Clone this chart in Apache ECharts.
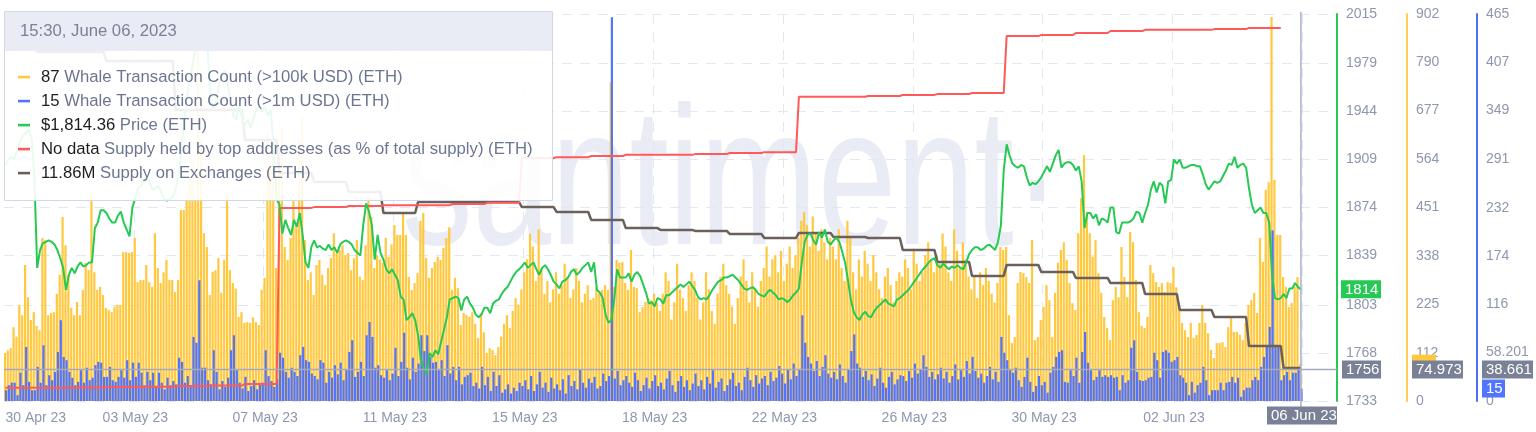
<!DOCTYPE html>
<html><head><meta charset="utf-8">
<script src="https://cdn.jsdelivr.net/npm/echarts@6.0.0/dist/echarts.min.js"></script>
<style>html,body{margin:0;padding:0;background:#fff;overflow:hidden}#chart{width:1536px;height:432px}</style>
</head><body><div id="chart"></div>
<script>
// ---------------- DATA ----------------
const tickLabels = ['30 Apr 23','03 May 23','07 May 23','11 May 23','15 May 23','18 May 23','22 May 23','26 May 23','30 May 23','02 Jun 23','06 Jun 23'];
const tickIndex  = [0,45,90,135,180,225,270,315,360,405,450];
const priceTicks = [1733,1768,1803,1839,1874,1909,1944,1979,2015];
const whale100kTicks = [0,112,225,338,451,564,677,790,902];
const whale1mTicks = [0,58.201,116,174,232,291,349,407,465];

// 2-hour bars, 30 Apr 23 02:00 -> 06 Jun 23 14:00
const whale100k = [
112,118,123,172,150,224,200,317,242,189,207,
175,165,380,375,200,205,207,250,294,429,363,294,
217,200,231,200,259,322,305,485,300,259,266,247,
217,212,207,220,224,224,347,347,345,347,380,277,
282,282,317,277,266,391,310,275,300,329,282,282,
254,282,445,445,468,520,560,472,870,610,391,359,
247,301,305,333,252,329,490,305,275,262,196,207,
182,184,182,195,184,177,259,287,620,540,600,310,
580,640,359,329,380,468,415,610,660,375,282,300,
247,317,329,294,270,310,333,391,345,352,363,340,
345,305,333,375,290,282,363,475,429,310,340,330,
322,380,336,365,410,387,387,440,387,289,259,275,
298,420,438,333,287,310,324,336,329,357,380,405,
259,287,263,177,205,200,196,207,180,147,205,160,
112,123,119,107,126,150,180,200,170,210,240,225,
260,300,330,390,360,280,400,310,250,280,230,260,
300,250,270,320,290,240,260,310,280,230,250,270,
236,240,266,252,259,270,259,743,266,329,322,324,
275,259,352,266,263,207,219,231,240,235,250,228,
210,250,300,280,190,230,320,260,240,210,270,300,
280,240,190,230,300,260,210,180,250,290,320,270,
250,220,180,240,290,330,280,230,300,260,220,280,
310,360,290,330,340,300,350,280,320,360,310,340,
380,420,440,410,360,430,390,350,400,370,330,380,
360,330,400,310,280,420,380,300,260,330,290,350,
320,280,340,300,260,240,290,310,270,230,280,300,
290,330,310,260,350,320,280,300,340,370,330,300,
340,320,390,360,300,280,400,350,310,370,330,290,
260,290,240,300,270,310,280,250,230,275,359,352,
359,200,135,149,275,301,298,289,275,375,142,149,
189,219,270,235,149,252,322,352,370,329,275,228,
212,391,473,573,440,391,336,375,298,252,196,170,
142,235,266,242,359,289,242,394,370,282,207,175,
170,196,317,298,277,266,275,254,277,275,312,265,
219,182,165,149,182,147,154,182,224,182,158,119,
100,135,135,137,126,172,196,161,161,154,142,182,
224,235,252,205,380,324,492,510,895,515,387,387,
289,266,219,228,266,289,87
];
const whale1m = [
13,19,22,22,7,34,19,65,23,13,13,
41,22,67,19,31,25,35,59,97,53,49,35,
28,19,23,37,22,40,25,28,43,47,46,29,
29,41,25,23,29,37,28,49,25,46,29,46,
34,19,35,25,34,17,34,22,14,28,19,24,
20,52,47,22,30,18,77,70,145,40,40,25,
20,61,35,14,24,17,28,61,79,37,22,15,
29,12,18,25,14,20,22,61,30,24,17,26,
58,52,35,28,40,35,30,55,65,49,47,33,
30,26,49,46,22,35,28,43,32,46,25,38,
59,73,29,35,47,30,79,95,77,40,43,31,
28,37,25,33,64,30,47,82,40,26,52,35,
45,79,60,79,53,46,47,37,49,30,67,33,
41,25,41,20,29,31,34,18,22,15,41,19,
29,12,35,18,31,10,14,20,9,16,12,22,
18,25,14,30,12,20,35,16,22,11,28,15,
20,13,26,9,31,18,24,14,38,22,16,27,
22,29,15,18,33,24,30,461,27,36,19,25,
30,22,17,34,25,12,19,28,15,24,31,18,
22,14,27,36,19,11,24,30,17,25,13,21,
33,18,25,14,29,21,37,16,23,27,12,19,
26,34,18,22,13,29,40,25,17,31,21,27,
30,19,35,24,28,42,33,21,38,26,45,30,
38,103,70,53,45,36,48,30,41,55,33,28,
35,26,44,30,22,38,60,80,45,40,29,36,
25,32,18,27,40,22,16,29,35,20,26,31,
30,24,36,28,45,33,38,55,41,29,35,26,
32,40,27,35,22,30,44,26,37,29,48,33,
53,36,28,33,22,30,41,26,35,23,77,58,
49,37,34,40,25,17,29,52,23,11,18,30,
19,23,10,34,41,53,59,61,23,22,37,30,
52,22,59,83,46,37,25,29,37,29,31,29,
31,28,29,13,31,22,25,64,73,35,25,24,
25,28,29,58,49,28,59,61,58,47,49,53,
31,28,22,7,23,10,19,22,41,25,7,13,
13,13,22,13,22,23,29,22,28,5,13,16,
16,25,29,25,41,53,65,89,205,65,65,25,
31,35,25,34,34,40,15
];
const price = [
1905,1909,1911,1909,1916,1922,1926,1928,1931,1925,1898,
1830,1843,1848,1849,1850,1849,1847,1843,1837,1830,1814,1825,
1830,1826,1831,1834,1831,1832,1834,1834,1859,1863,1872,1872,
1870,1866,1863,1863,1868,1871,1863,1858,1853,1874,1881,1888,
1890,1894,1896,1892,1887,1888,1890,1885,1880,1879,1880,1882,
1887,1898,1916,1938,1956,1967,1980,1990,2000,2009,2003,1992,
1956,1945,1952,1963,1971,1974,1965,1952,1941,1938,1949,1939,
1934,1938,1932,1939,1945,1949,1944,1947,1941,1945,1916,1880,
1876,1855,1865,1859,1854,1865,1860,1870,1854,1834,1830,1845,
1850,1845,1846,1844,1843,1847,1843,1845,1841,1847,1849,1850,
1849,1847,1843,1841,1839,1861,1877,1871,1861,1836,1854,1841,
1836,1829,1826,1829,1825,1821,1809,1807,1792,1794,1797,1792,
1781,1763,1756,1753,1768,1765,1770,1767,1776,1785,1794,1807,
1808,1809,1808,1799,1807,1809,1804,1801,1796,1794,1796,1801,
1801,1797,1804,1806,1807,1811,1814,1816,1820,1824,1827,1829,
1831,1834,1830,1832,1834,1829,1825,1830,1832,1829,1825,1820,
1818,1815,1820,1821,1823,1827,1829,1825,1827,1830,1832,1834,
1827,1834,1814,1812,1808,1796,1790,1792,1807,1829,1823,1823,
1823,1826,1820,1825,1827,1824,1818,1812,1804,1805,1802,1808,
1807,1804,1810,1810,1812,1814,1816,1818,1816,1818,1820,1817,
1814,1809,1807,1808,1807,1810,1814,1817,1820,1821,1823,1823,
1824,1825,1823,1821,1818,1815,1814,1815,1816,1814,1811,1810,
1809,1812,1814,1812,1810,1807,1808,1807,1805,1807,1810,1812,
1815,1834,1849,1854,1855,1850,1847,1856,1852,1858,1849,1847,
1850,1852,1849,1842,1834,1821,1807,1798,1794,1792,1796,1798,
1795,1794,1798,1801,1803,1805,1807,1804,1803,1802,1807,1808,
1810,1812,1814,1817,1820,1823,1826,1829,1831,1834,1836,1837,
1832,1830,1833,1831,1829,1831,1830,1832,1830,1829,1834,1840,
1843,1845,1845,1843,1844,1846,1847,1845,1843,1849,1861,1901,
1920,1912,1906,1904,1903,1905,1904,1896,1890,1892,1891,1893,
1896,1900,1904,1900,1906,1912,1916,1903,1906,1907,1907,1905,
1901,1904,1893,1859,1870,1870,1866,1869,1861,1866,1865,1863,
1874,1874,1856,1855,1863,1863,1863,1864,1866,1871,1870,1863,
1870,1876,1887,1893,1885,1892,1890,1877,1893,1894,1909,1906,
1909,1903,1903,1904,1905,1905,1904,1904,1898,1891,1887,1890,
1893,1892,1893,1897,1901,1906,1905,1911,1903,1905,1906,1903,
1888,1876,1870,1872,1874,1870,1870,1863,1825,1808,1807,1808,
1811,1808,1815,1815,1819,1816,1814.36
];
// daily values, 30 Apr .. 06 Jun
const topAddressesDaily = [45.034,45.034,45.035,45.036,45.037,45.039,45.040,45.044,
45.499,45.501,45.504,45.506,45.506,45.509,45.512,
45.628,45.630,45.633,45.636,45.636,45.638,45.641,45.643,
45.786,45.786,45.788,45.791,45.793,45.796,
45.943,45.946,45.951,45.956,45.959,45.959,45.961,45.964,null];
const exchangeSupplyDaily = [13.433,13.413,13.413,13.369,13.369,13.129,13.129,12.981,
12.819,12.775,12.726,12.623,12.677,12.677,12.677,12.652,12.628,12.589,12.549,12.540,
12.535,12.520,12.500,12.525,12.505,12.500,12.441,12.382,12.314,12.368,12.333,12.304,
12.279,12.225,12.147,12.112,11.970,11.862];

const crosshair = { price: 1756, whale100k: 74.973, whale1m: 38.661, label: '06 Jun 23' };
const tooltipTitle = '15:30, June 06, 2023';

// ---------------- BUILD ----------------
const N = price.length;
const TOTAL = N + 12;
const FIRST_DAY_BARS = 11, BARS_PER_DAY = 12;
const dayOf = i => i < FIRST_DAY_BARS ? 0 : 1 + Math.floor((i - FIRST_DAY_BARS) / BARS_PER_DAY);
const MON = ['Jan','Feb','Mar','Apr','May','Jun','Jul','Aug','Sep','Oct','Nov','Dec'];
const t0 = Date.UTC(2023, 3, 30, 2);
const categories = [];
for (let i = 0; i < TOTAL; i++) {
  const d = new Date(t0 + i * 7200000);
  categories.push(String(d.getUTCDate()).padStart(2,'0') + ' ' + MON[d.getUTCMonth()] + ' 23 ' + String(d.getUTCHours()).padStart(2,'0') + ':00');
}
const redSeries = [], darkSeries = [];
for (let i = 0; i < N; i++) { redSeries.push(topAddressesDaily[dayOf(i)]); darkSeries.push(exchangeSupplyDaily[dayOf(i)]); }

const FONT = '"Liberation Sans", Arial, sans-serif';
const LABEL_C = '#8e97ae';
const GREEN = '#26c953', YELLOW = '#ffc83f', BLUE = '#5275ff', RED = '#ff5a5a', DARK = '#6b615c';
const GRID_L = 4, GRID_R = 1337, GRID_T = 14, GRID_B = 401;

const chart = echarts.init(document.getElementById('chart'), null, { renderer: 'canvas' });
const labelMap = {}; tickIndex.forEach((k, j) => labelMap[k] = tickLabels[j]);

chart.setOption({
  animation: false,
  backgroundColor: '#fff',
  grid: { left: GRID_L, right: 1536 - GRID_R, top: GRID_T, bottom: 432 - GRID_B, containLabel: false },
  xAxis: {
    type: 'category', data: categories, boundaryGap: true,
    axisLine: { show: false }, axisTick: { show: false },
    axisLabel: {
      interval: (i) => labelMap[i] !== undefined,
      formatter: (v, i) => labelMap[i] || '',
      color: LABEL_C, fontSize: 14, fontFamily: FONT, margin: 10,
      showMinLabel: true, showMaxLabel: false, alignMinLabel: 'left'
    },
    splitLine: { show: true, interval: (i) => i > 0 && labelMap[i] !== undefined,
      lineStyle: { color: '#e3e7f1', type: [10, 8], width: 1 } }
  },
  yAxis: [
    { type: 'value', position: 'right', offset: 0, min: 1733, max: 2015,
      axisLine: { show: true, lineStyle: { color: GREEN, width: 2 } },
      axisTick: { show: false, customValues: priceTicks },
      axisLabel: { customValues: priceTicks, color: LABEL_C, fontSize: 14, fontFamily: FONT, margin: 9,
        formatter: v => String(Math.round(v)) },
      splitLine: { show: true, lineStyle: { color: '#e3e7f1', type: [10, 8], width: 1 } } },
    { type: 'value', position: 'right', offset: 70, min: 0, max: 902,
      axisLine: { show: true, lineStyle: { color: '#ffcd50', width: 2 } },
      axisTick: { show: false, customValues: whale100kTicks },
      axisLabel: { customValues: whale100kTicks, color: LABEL_C, fontSize: 14, fontFamily: FONT, margin: 9 },
      splitLine: { show: false } },
    { type: 'value', position: 'right', offset: 140, min: 0, max: 465,
      axisLine: { show: true, lineStyle: { color: '#4f6ef2', width: 2 } },
      axisTick: { show: false, customValues: whale1mTicks },
      axisLabel: { customValues: whale1mTicks, color: LABEL_C, fontSize: 14, fontFamily: FONT, margin: 9 },
      splitLine: { show: false } },
    { type: 'value', show: false, min: 45.0, max: 46.0, splitLine: { show: false } },
    { type: 'value', show: false, min: 11.70, max: 13.60, splitLine: { show: false } }
  ],
  series: [
    { name: 'Whale Transaction Count (>100k USD) (ETH)', type: 'bar', yAxisIndex: 1, data: whale100k,
      barWidth: 2.2, barGap: '-50%', itemStyle: { color: YELLOW }, z: 2 },
    { name: 'Whale Transaction Count (>1m USD) (ETH)', type: 'bar', yAxisIndex: 2, data: whale1m,
      barWidth: 2.2, barGap: '-50%', itemStyle: { color: BLUE }, z: 3 },
    { name: 'Supply on Exchanges (ETH)', type: 'line', yAxisIndex: 4, data: darkSeries, showSymbol: false,
      lineStyle: { color: DARK, width: 2.5 }, itemStyle: { color: DARK }, z: 4 },
    { name: 'Supply held by top addresses (as % of total supply) (ETH)', type: 'line', yAxisIndex: 3, data: redSeries,
      showSymbol: false, lineStyle: { color: RED, width: 2 }, itemStyle: { color: RED }, z: 5 },
    { name: 'Price (ETH)', type: 'line', yAxisIndex: 0, data: price, showSymbol: false,
      lineStyle: { color: GREEN, width: 2 }, itemStyle: { color: GREEN }, z: 6 }
  ]
});

// ---------------- OVERLAYS (positions from the chart's own scales) ----------------
const xLast = chart.convertToPixel({ xAxisIndex: 0 }, N - 1);
const yCross = chart.convertToPixel({ yAxisIndex: 0 }, crosshair.price);
const yPrice = chart.convertToPixel({ yAxisIndex: 0 }, price[N - 1]);
const yW100 = chart.convertToPixel({ yAxisIndex: 1 }, whale100k[N - 1]);
const yW1m = chart.convertToPixel({ yAxisIndex: 2 }, whale1m[N - 1]);

const TOP = { zlevel: 1, silent: true };
const els = [];
function add(el, z) { els.push(Object.assign({}, TOP, { z: z }, el)); }
function box(x, yc, w, h, fill, text, z) {
  add({ type: 'rect', shape: { x: x, y: yc - h / 2, width: w, height: h }, style: { fill: fill } }, z);
  add({ type: 'text', x: x + 4, y: yc + 0.5, style: { text: text, fill: '#fff', font: '15px ' + FONT, verticalAlign: 'middle', align: 'left' } }, z + 1);
}

// watermark (behind the series)
els.push({ type: 'text', x: 402, y: 190, scaleX: 0.72, z: -10, zlevel: 0, silent: true,
  style: { text: 'santiment·', fill: '#e9ecf4', font: '196px ' + FONT, verticalAlign: 'middle', align: 'left' } });

// crosshair
add({ type: 'line', shape: { x1: GRID_L, y1: yCross, x2: GRID_R, y2: yCross }, style: { stroke: '#a3aac0', lineWidth: 1.5 } }, 10);
add({ type: 'line', shape: { x1: xLast, y1: 12, x2: xLast, y2: 407 }, style: { stroke: '#a9b0c9', lineWidth: 1.5 } }, 10);
box(1267, 415.5, 70, 18, '#7a8197', crosshair.label, 20);
box(1341, yPrice, 40, 18, GREEN, String(Math.round(price[N - 1])), 20);
add({ type: 'rect', shape: { x: 1412, y: yW100 - 9, width: 24, height: 18 }, style: { fill: YELLOW } }, 18);
box(1342, yCross, 39, 18, '#7a8197', String(crosshair.price), 20);
box(1412, yCross, 51, 18, '#7a8197', String(crosshair.whale100k), 20);
box(1482, yCross, 51, 18, '#7a8197', String(crosshair.whale1m), 20);
box(1482, yW1m, 23, 18, BLUE, String(whale1m[N - 1]), 22);

// static tooltip box
const fmtMoney = v => '$' + v.toLocaleString('en-US', { minimumFractionDigits: 2, maximumFractionDigits: 2 });
const lastRed = redSeries[N - 1];
const rows = [
  [YELLOW, String(whale100k[N - 1]), 'Whale Transaction Count (>100k USD) (ETH)'],
  [BLUE, String(whale1m[N - 1]), 'Whale Transaction Count (>1m USD) (ETH)'],
  [GREEN, fmtMoney(price[N - 1]), 'Price (ETH)'],
  [RED, lastRed == null ? 'No data' : lastRed.toFixed(2) + '%', 'Supply held by top addresses (as % of total supply) (ETH)'],
  [DARK, exchangeSupplyDaily[exchangeSupplyDaily.length - 1].toFixed(2) + 'M', 'Supply on Exchanges (ETH)']
];
const TF = '16.7px ' + FONT;
add({ type: 'rect', shape: { x: 4.5, y: 11.5, width: 548, height: 189 }, style: { fill: 'rgba(255,255,255,0.9)', stroke: '#d3d8e6', lineWidth: 1 } }, 30);
add({ type: 'rect', shape: { x: 5, y: 12, width: 547, height: 39 }, style: { fill: '#e9ecf5' } }, 31);
add({ type: 'text', x: 20, y: 31.5, style: { text: tooltipTitle, fill: '#7b8197', font: TF, verticalAlign: 'middle' } }, 32);
rows.forEach((r, k) => {
  const y = 77 + k * 24;
  add({ type: 'rect', shape: { x: 18, y: y - 1.2, width: 12, height: 2.6 }, style: { fill: r[0] } }, 32);
  add({ type: 'text', x: 41, y: y + 0.5, style: {
    text: '{v|' + r[1] + '} {l|' + r[2] + '}', verticalAlign: 'middle', font: TF,
    rich: { v: { fill: '#1e1e22', font: TF }, l: { fill: '#6c7691', font: TF } } } }, 32);
});

chart.setOption({ graphic: { elements: els } });
</script>
</body></html>
